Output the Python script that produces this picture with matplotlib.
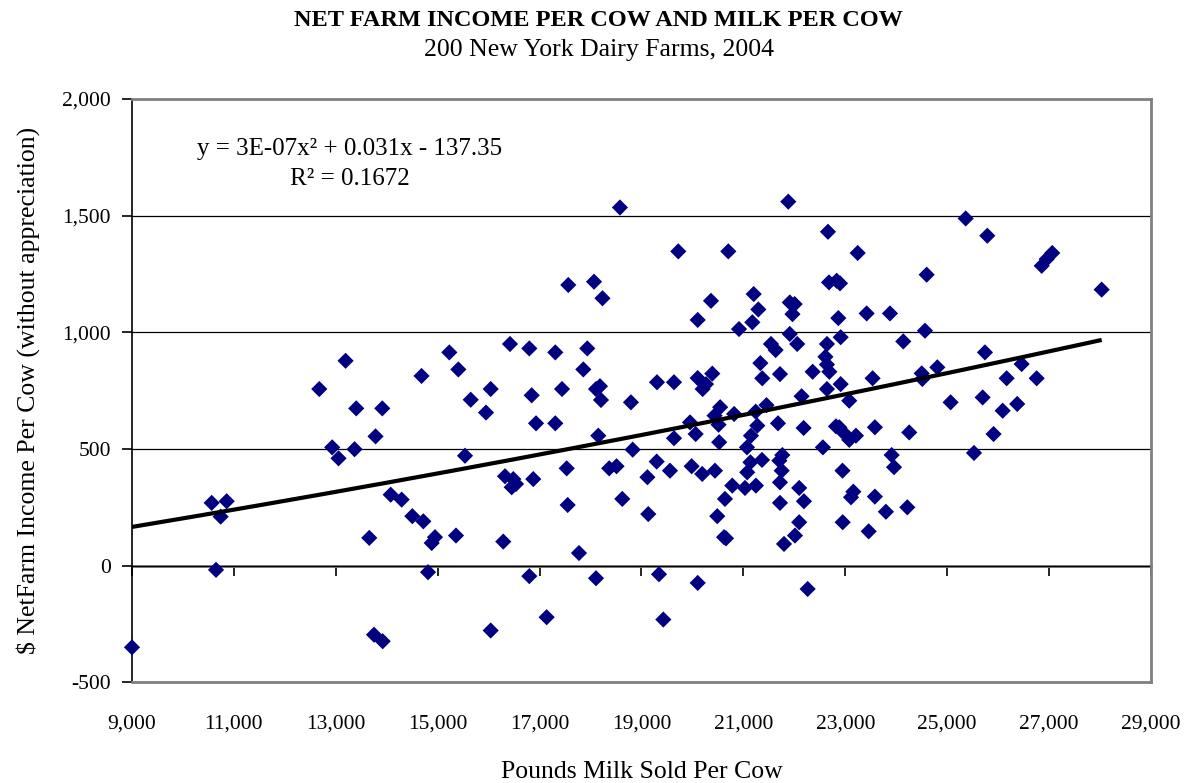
import numpy as np
import matplotlib
matplotlib.use("Agg")
import matplotlib.pyplot as plt
from matplotlib.ticker import FuncFormatter

# ---- data ----
milk_per_cow = [
    9000, 10564, 10858, 10740, 10649, 13657, 14077, 14293, 14502, 14718,
    14947, 14882, 15359, 14810, 13750, 13920, 12676, 13192, 13401, 13912,
    12929, 13054, 13368, 13780, 14683, 15228, 15405, 15648, 15536, 16040,
    15948, 16419, 16798, 17308, 17936, 17858, 16845, 17440, 18107, 18185,
    18205, 16930, 17308, 18152, 18793, 18827, 19304, 19638, 20102, 20389,
    20200, 20266, 20103, 20364, 21202, 21293, 21175, 20914, 21910, 22006,
    21963, 21910, 22056, 21541, 21632, 21333, 21370, 21718, 22359, 22640,
    22610, 22640, 22687, 22640, 22142, 21453, 21241, 21273, 21679, 22182,
    22560, 21148, 21070, 20818, 20544, 20434, 20513, 19952, 20063, 19638,
    20525, 19298, 19559, 19984, 20192, 20442, 17532, 18366, 18510, 19116,
    21138, 21365, 21075, 21706, 21764, 21752, 17563, 18068, 18234, 18577,
    19722, 20704, 21881, 22660, 22680, 23243, 25363, 25787, 26855, 26953,
    27062, 24597, 28032, 22830, 22896, 22863, 23419, 23877, 24564, 22909,
    24138, 22909, 23536, 24500, 24512, 24806, 25741, 26461, 26167, 26756,
    23077, 25067, 25696, 26089, 26374, 22817, 22882, 22961, 23078, 23209,
    23581, 24255, 25910, 23910, 23956, 25526, 22945, 23158, 23112, 23581,
    23797, 24217, 22949, 23459, 16321, 16484, 16452, 16537, 16876, 21718,
    20782, 21031, 21246, 22095, 22188, 20638, 21718, 20487, 22095, 22012,
    21797, 20620, 20659, 19133, 18623, 17551, 16287, 17773, 16798, 18107,
    19343, 20103, 22261, 17138, 19428, 16040,
]
income_per_cow = [
    -350, 269, 276, 210, -18, 119, 304, 283, 212, 190,
    122, 97, 129, -28, -296, -324, 757, 878, 674, 674,
    507, 460, 499, 554, 813, 914, 841, 711, 471, 757,
    656, 950, 931, 914, 931, 841, 730, 757, 757, 769,
    710, 610, 610, 557, 700, 497, 786, 786, 804, 823,
    757, 778, 1053, 1135, 1164, 1098, 1043, 1014, 1128, 1121,
    1078, 993, 950, 950, 924, 868, 803, 821, 831, 950,
    895, 862, 831, 757, 726, 688, 660, 600, 610, 590,
    507, 557, 507, 650, 679, 643, 604, 614, 564, 546,
    529, 446, 407, 426, 393, 407, 417, 417, 426, 379,
    443, 453, 400, 450, 474, 407, 1203, 1217, 1146, 1535,
    1347, 1347, 1560, 1431, 1214, 1340, 1488, 1414, 1285, 1314,
    1340, 1247, 1183, 1221, 1210, 1061, 1081, 1081, 1007, 979,
    961, 778, 803, 824, 800, 850, 914, 864, 803, 803,
    707, 700, 721, 664, 693, 597, 593, 571, 539, 557,
    593, 571, 564, 474, 422, 483, 407, 317, 293, 296,
    231, 250, 186, 147, 383, 371, 336, 350, 371, 357,
    343, 333, 343, 333, 276, 286, 269, 212, 186, 129,
    93, 122, 117, 221, 286, 260, 103, 54, -45, -54,
    -37, -74, -100, -221, -231, -278,
]

x_ticks = [9000, 11000, 13000, 15000, 17000, 19000, 21000, 23000, 25000, 27000, 29000]
y_ticks = [-500, 0, 500, 1000, 1500, 2000]

# polynomial trendline as printed on the chart
trend_a, trend_b, trend_c = 3e-07, 0.031, -137.35
r_squared = 0.1672

title = "NET FARM INCOME PER COW AND MILK PER COW"
subtitle = "200 New York Dairy Farms, 2004"
x_label = "Pounds Milk Sold Per Cow"
y_label = "$ NetFarm Income Per Cow (without appreciation)"
equation = f"y = 3E-07x\u00b2 + {trend_b}x - {abs(trend_c)}\nR\u00b2 = {r_squared}"

# ---- figure ----
plt.rcParams["font.family"] = ["Liberation Serif", "DejaVu Serif"]
fig = plt.figure(figsize=(11.97, 7.83), dpi=100)
ax = fig.add_axes([132 / 1197, 1 - 682.3 / 783, (1151 - 132) / 1197, (682.3 - 99) / 783])

ax.set_xlim(x_ticks[0], x_ticks[-1])
ax.set_ylim(y_ticks[0], y_ticks[-1])
ax.set_xticks(x_ticks)
ax.set_yticks(y_ticks)
fmt = FuncFormatter(lambda v, p: f"{int(round(v)):,}")
ax.xaxis.set_major_formatter(fmt)
ax.yaxis.set_major_formatter(fmt)

ax.yaxis.grid(True, color="black", linewidth=0.9, zorder=0)
ax.set_axisbelow(True)

ax.scatter(milk_per_cow, income_per_cow, marker="D", s=68, color="#000080",
           edgecolors="none", zorder=3, clip_on=False)

xs = np.linspace(min(milk_per_cow), max(milk_per_cow), 200)
ax.plot(xs, trend_a * xs ** 2 + trend_b * xs + trend_c, color="black",
        linewidth=3, zorder=4, solid_capstyle="butt")

for s in ("top", "right", "bottom"):
    ax.spines[s].set_color("#808080")
    ax.spines[s].set_linewidth(2)
ax.spines["left"].set_color("black")
ax.spines["left"].set_linewidth(1.2)

ax.tick_params(axis="x", length=0, pad=23, labelsize=15.5)
ax.tick_params(axis="y", direction="out", length=7, width=1.2, pad=8, labelsize=15.5)

# x axis line crossing at zero with tick marks
sec = ax.secondary_xaxis(0.2)
sec.set_xticks(x_ticks)
sec.tick_params(axis="x", direction="out", length=7, width=1.2, color="black",
                labelbottom=False)
sec.spines["bottom"].set_color("#808080")
sec.spines["bottom"].set_linewidth(2)

ax.set_xlabel(x_label, fontsize=18.5, labelpad=20)
ax.set_ylabel(y_label, fontsize=18.5, labelpad=16)

fig.text(0.5, 1 - 20 / 783, title, ha="center", va="center", fontsize=17.5,
         fontweight="bold")
fig.text(0.5, 1 - 50 / 783, subtitle, ha="center", va="center", fontsize=18.5)

ax.text(350 / 1197, 1 - 164 / 783, equation,
        transform=fig.transFigure, ha="center", va="center", fontsize=18,
        linespacing=1.43)

fig.savefig("out.png", dpi=100)
